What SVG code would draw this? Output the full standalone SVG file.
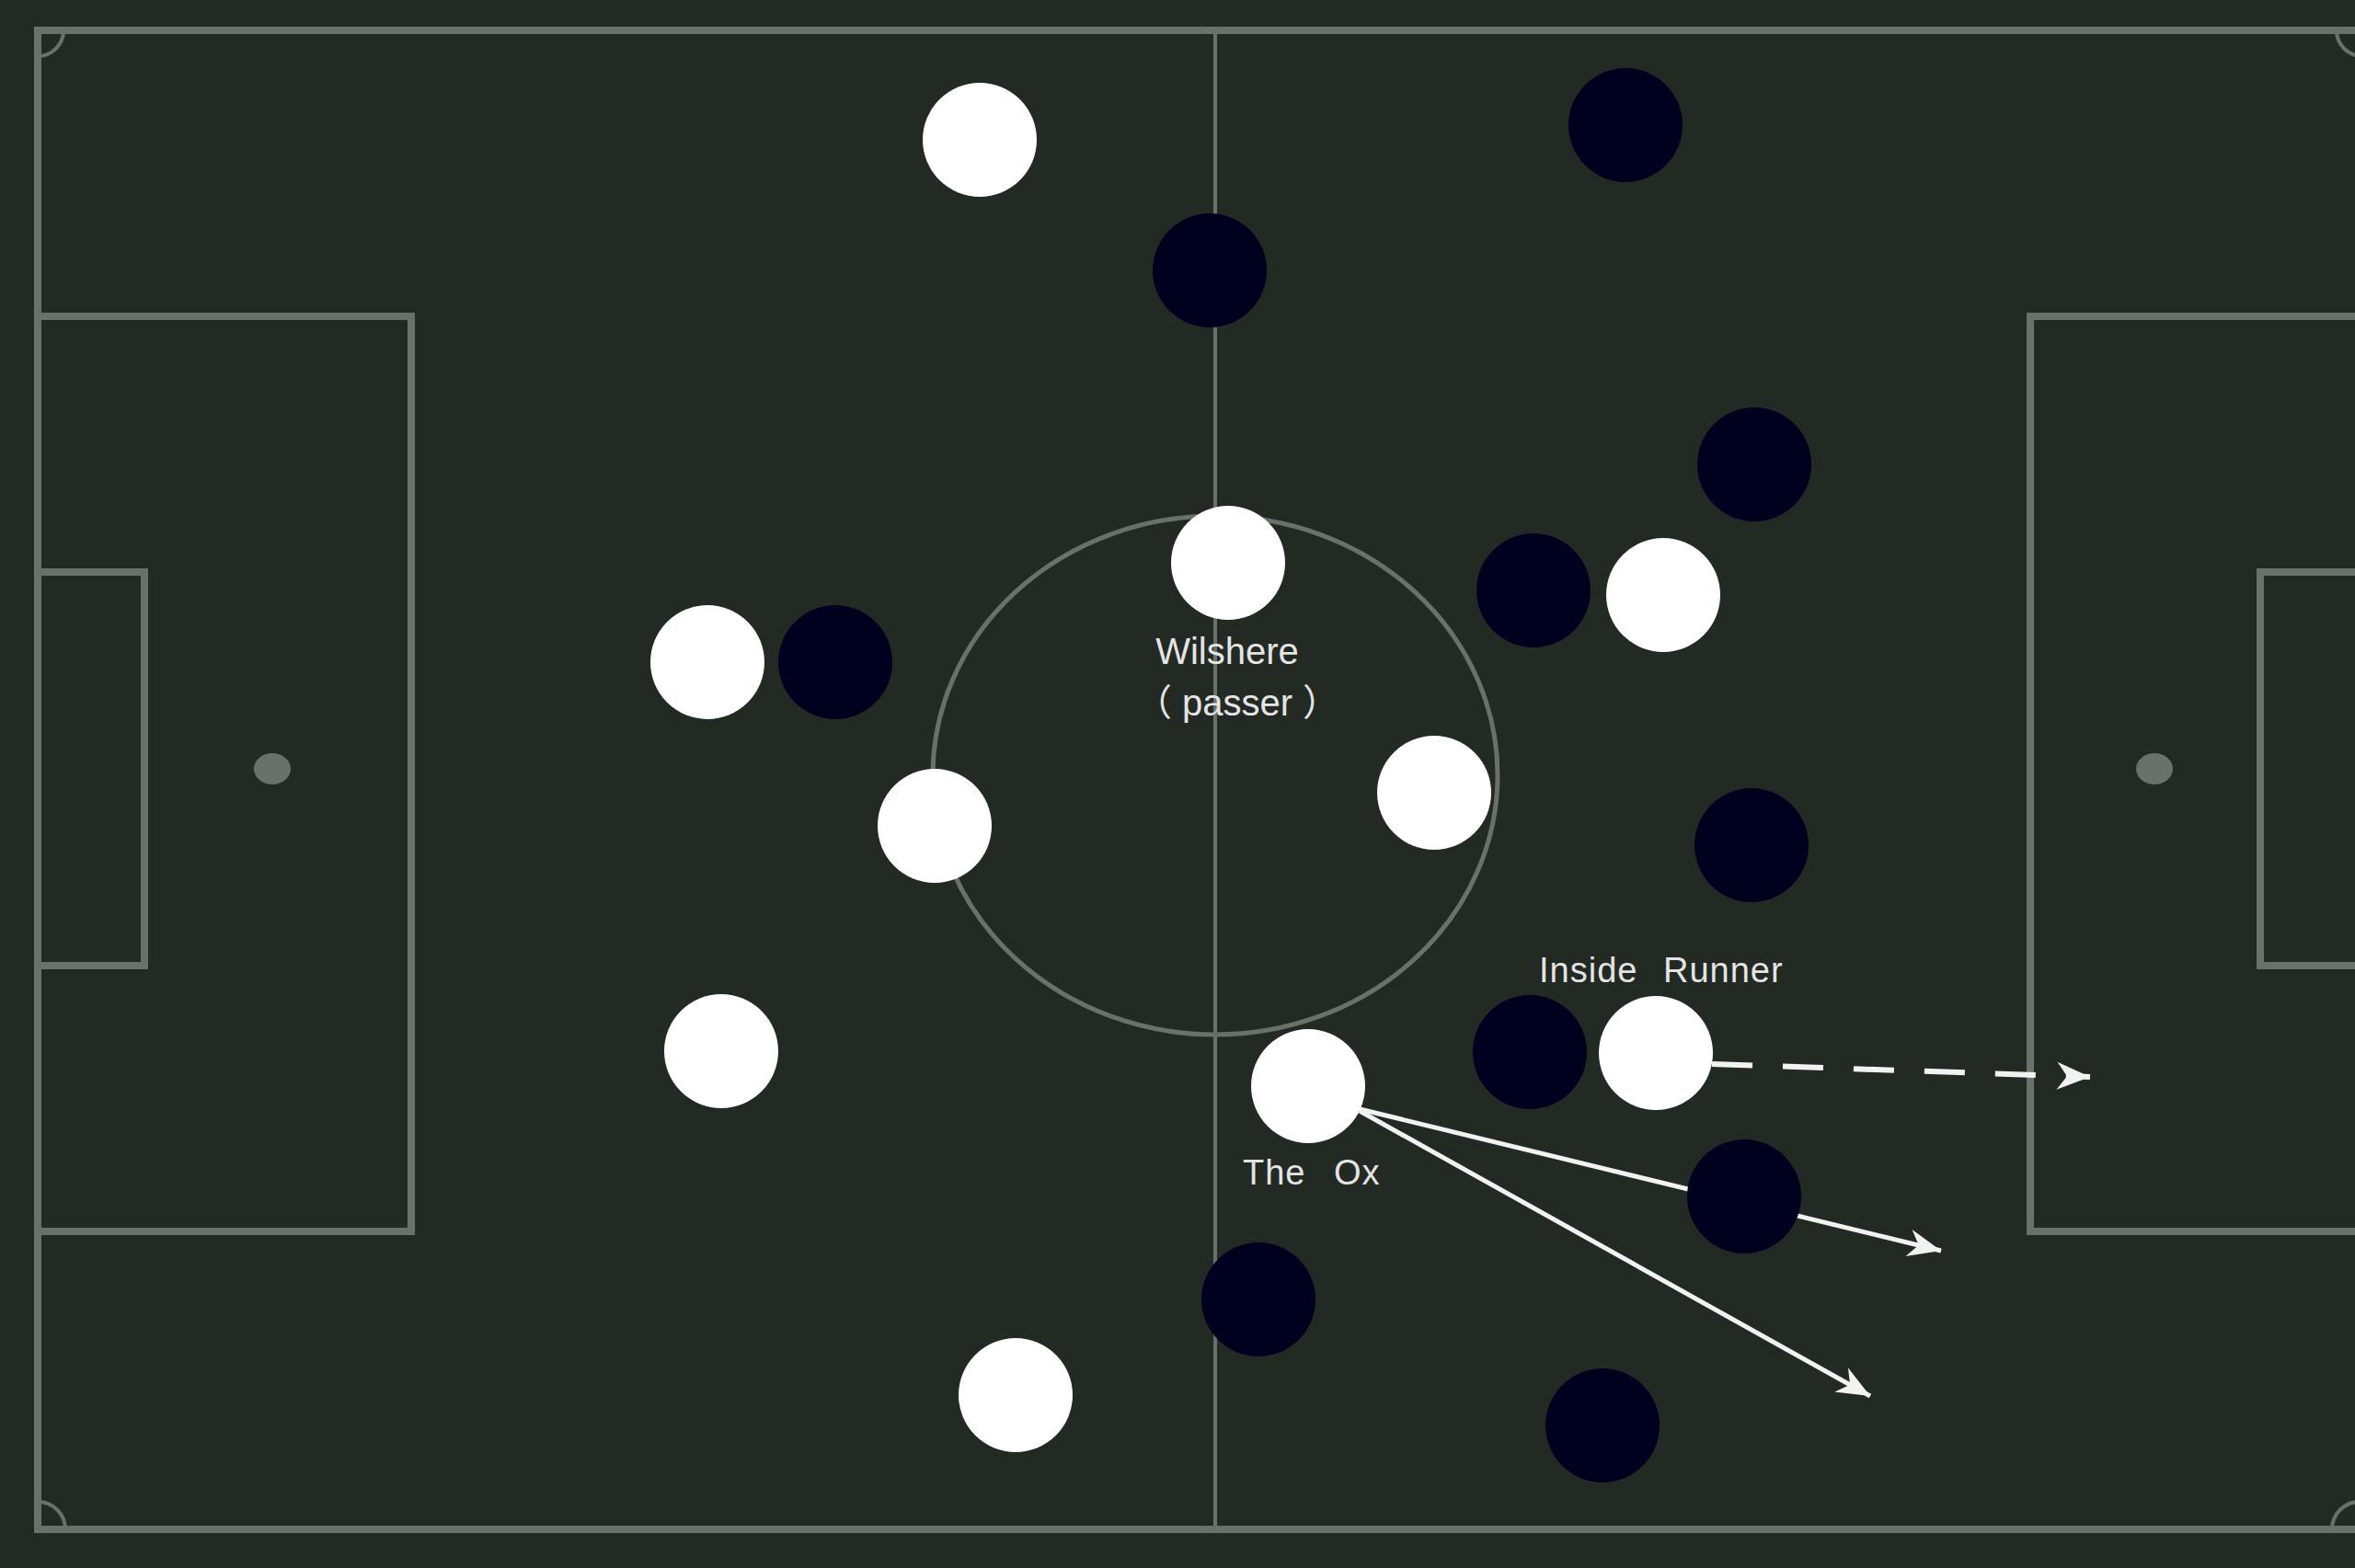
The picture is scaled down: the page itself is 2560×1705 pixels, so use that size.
<svg xmlns="http://www.w3.org/2000/svg" width="2560" height="1705" viewBox="0 0 2560 1705">
  <style>
    .line { fill: none; stroke: #6a706a; stroke-width: 8; }
    .thin { fill: none; stroke: #6a706a; stroke-width: 4; }
    .spot { fill: #6a706a; }
    .white { fill: #ffffff; }
    .dark { fill: #00001f; }
    .pass { fill: none; stroke: #f2f2f2; stroke-width: 5; marker-end: url(#arrow); }
    .run { fill: none; stroke: #f2f2f2; stroke-width: 6; stroke-dasharray: 44 33; marker-end: url(#arrow); }
    .label { font-family: "Liberation Sans", "Noto Sans CJK SC", sans-serif; fill: #e4e4e4; }
  </style>
  <defs>
    <marker id="arrow" viewBox="-40 -20 44 40" markerWidth="44" markerHeight="40" refX="0" refY="0" orient="auto" markerUnits="userSpaceOnUse">
      <path d="M0,0 L-36,-15 L-25,0 L-36,15 Z" fill="#f2f2f2"/>
    </marker>
  </defs>

  <rect x="0" y="0" width="2560" height="1705" fill="#232a24"/>

  <g id="pitch">
    <path class="line" d="M2580,33 L41,33 L41,1663 L2580,1663"/>
    <line class="thin" x1="1321" y1="33" x2="1321" y2="1663"/>
    <ellipse class="thin" cx="1321" cy="843" rx="307" ry="282" style="stroke-width:5"/>
    <path class="line" d="M41,344 L447,344 L447,1339 L41,1339"/>
    <path class="line" d="M41,622 L157,622 L157,1050 L41,1050"/>
    <path class="line" d="M2580,344 L2207,344 L2207,1339 L2580,1339"/>
    <path class="line" d="M2580,622 L2457,622 L2457,1050 L2580,1050"/>
    <ellipse class="spot" cx="296" cy="836" rx="20" ry="17"/>
    <ellipse class="spot" cx="2342" cy="836" rx="20" ry="17"/>
    <path class="thin" d="M69,33 A28,28 0 0 1 41,61"/>
    <path class="thin" d="M41,1633 A30,30 0 0 1 71,1663"/>
    <path class="thin" d="M2540,33 A28,28 0 0 0 2568,61"/>
    <path class="thin" d="M2535,1663 A30,30 0 0 1 2565,1633"/>
  </g>

  <g id="connectors">
    <line class="pass" x1="1478" y1="1206" x2="2110" y2="1360"/>
    <line class="pass" x1="1478" y1="1208" x2="2033" y2="1518"/>
    <line class="run" x1="1861" y1="1157" x2="2272" y2="1171"/>
  </g>

  <g id="white-1"><circle class="white" cx="1065" cy="152" r="62"/></g>
  <g id="white-wilshere"><circle class="white" cx="1335" cy="612" r="62"/></g>
  <g id="white-3"><circle class="white" cx="769" cy="720" r="62"/></g>
  <g id="white-4"><circle class="white" cx="1016" cy="898" r="62"/></g>
  <g id="white-5"><circle class="white" cx="1559" cy="862" r="62"/></g>
  <g id="white-6"><circle class="white" cx="1808" cy="647" r="62"/></g>
  <g id="white-7"><circle class="white" cx="784" cy="1143" r="62"/></g>
  <g id="white-ox"><circle class="white" cx="1422" cy="1181" r="62"/></g>
  <g id="white-runner"><circle class="white" cx="1800" cy="1145" r="62"/></g>
  <g id="white-10"><circle class="white" cx="1104" cy="1517" r="62"/></g>

  <g id="dark-1"><circle class="dark" cx="1767" cy="136" r="62"/></g>
  <g id="dark-2"><circle class="dark" cx="1315" cy="294" r="62"/></g>
  <g id="dark-3"><circle class="dark" cx="1907" cy="505" r="62"/></g>
  <g id="dark-4"><circle class="dark" cx="1667" cy="642" r="62"/></g>
  <g id="dark-5"><circle class="dark" cx="908" cy="720" r="62"/></g>
  <g id="dark-6"><circle class="dark" cx="1904" cy="919" r="62"/></g>
  <g id="dark-7"><circle class="dark" cx="1663" cy="1144" r="62"/></g>
  <g id="dark-8"><circle class="dark" cx="1896" cy="1301" r="62"/></g>
  <g id="dark-9"><circle class="dark" cx="1368" cy="1413" r="62"/></g>
  <g id="dark-10"><circle class="dark" cx="1742" cy="1550" r="62"/></g>

  <g id="labels">
    <text class="label" x="1334" y="722" font-size="40" text-anchor="middle">Wilshere</text>
    <text class="label" x="1345" y="778" font-size="40" text-anchor="middle">（<tspan dx="11">passer</tspan><tspan dx="11">）</tspan></text>
    <text class="label" font-size="38" letter-spacing="1" y="1068"><tspan x="1673">Inside</tspan> <tspan x="1808">Runner</tspan></text>
    <text class="label" font-size="38" letter-spacing="1" y="1288"><tspan x="1351">The</tspan> <tspan x="1450">Ox</tspan></text>
  </g>
</svg>
